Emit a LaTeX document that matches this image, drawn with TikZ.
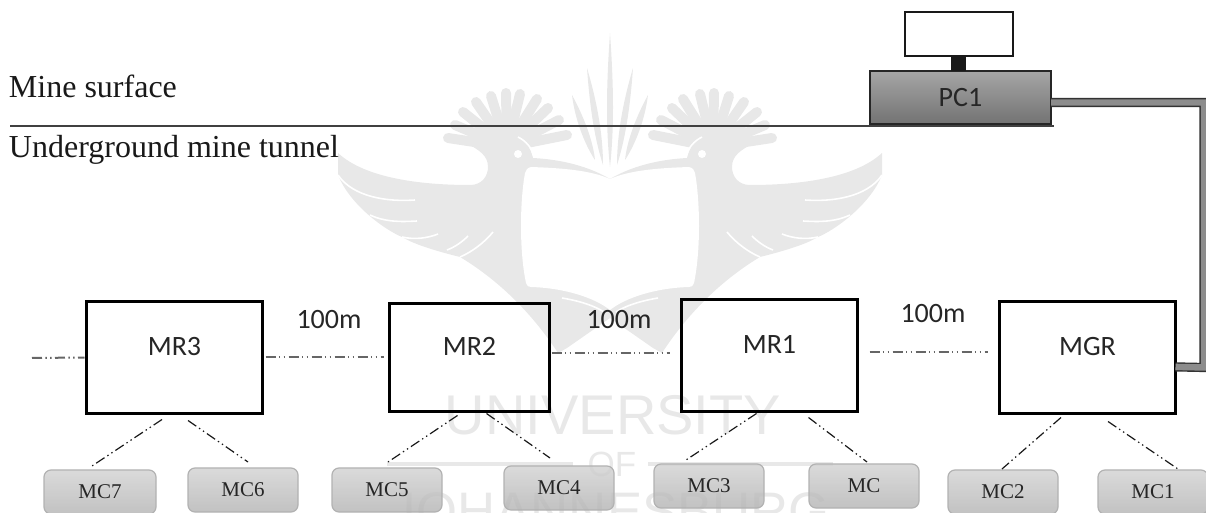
\documentclass[tikz,border=0pt]{standalone}
\usepackage{fontspec}
\setmainfont{Liberation Serif}
\newfontfamily\calfont{Carlito}
\newfontfamily\wmfont{Liberation Sans}
\usepackage{xcolor}
\usetikzlibrary{positioning,calc}

\definecolor{wmgray}{HTML}{E8E8E8}

\begin{document}
\begin{tikzpicture}[
  x=0.5pt, y=-0.5pt,
  every node/.style={inner sep=0pt, outer sep=0pt},
  mrbox/.style={draw=black, line width=1.4pt, font=\fontsize{14}{16}\calfont,
                text depth=11.5pt, text=black!85},
  mcbox/.style={draw=black!30, line width=0.6pt, rounded corners=3.5pt, minimum width=55pt,
                minimum height=22pt, top color=black!18, bottom color=black!30,
                fill opacity=0.8, text opacity=1,
                font=\fontsize{10.5}{12}\selectfont, text=black!85},
  lnk/.style={line width=1pt, black!60,
              dash pattern=on 5pt off 1.7pt on 0.7pt off 1.7pt on 0.7pt off 1.7pt},
  lnkd/.style={lnk, line width=0.6pt, black!90},
  pipe/.style={draw=black!80, line width=0.7pt, double=black!45, double distance=3.2pt},
  tag/.style={font=\fontsize{14}{16}\calfont, text=black!85},
  zone/.style={font=\fontsize{16}{18}\selectfont, text=black!90, anchor=base west},
  wm/.style={font=\wmfont, text=wmgray},
  slit/.style={draw=white, line width=0.8pt},
]
\useasboundingbox (0,0) rectangle (1206,513);

% =============================================================== watermark
\foreach \s in {1,-1} {
\begin{scope}[xshift=305pt, xscale=\s, xshift=-305pt]
  % crest
  \foreach \tx/\ty in {448/138, 455/125, 463/112, 476/102, 491/96, 506/93,
                       520/94, 537/99, 548/108, 559/120, 567/135}
    \draw[wmgray, line width=5pt, line cap=round] (\tx,\ty) -- (507,147);
  % wing, head and tail
  \fill[wmgray] (338,153) .. controls (365,178) and (420,185) .. (470,185)
    .. controls (482,185) and (488,176) .. (488,167)
    .. controls (488,155) and (478,150) .. (470,145) -- (510,133)
    .. controls (525,138) and (531,148) .. (533,158)
    .. controls (570,160) and (595,170) .. (610,179) -- (610,318) -- (567,348) -- (558,353)
    .. controls (530,310) and (495,278) .. (460,257)
    .. controls (440,252) and (415,245) .. (402,237)
    .. controls (385,230) and (350,205) .. (338,175) -- cycle;
  % shield
  \fill[white] (610,179) .. controls (590,170) and (560,168) .. (531,167)
    .. controls (527,168) and (526,170) .. (525,173)
    .. controls (520,200) and (519,250) .. (526,283)
    .. controls (527,286) and (528,287) .. (531,287)
    .. controls (565,288) and (595,298) .. (610,310) -- cycle;
  \fill[white] (518,154) circle (4);
  \draw[slit] (518,137) .. controls (526,141) and (532,148) .. (533,155);
  \draw[slit] (562,298) .. controls (580,301) and (595,306) .. (604,312);
  % wing slits
  \draw[slit] (338,175) .. controls (353,197) and (387,202) .. (415,200);
  \draw[slit] (370,215) .. controls (385,222) and (400,222) .. (417,221);
  \draw[slit] (402,237) .. controls (415,240) and (428,238) .. (438,234);
  \draw[slit] (447,250) .. controls (455,247) and (462,242) .. (468,236);
  \draw[slit] (460,257) .. controls (472,252) and (485,242) .. (493,232);
  % rays
  \fill[wmgray] (587,68) .. controls (590,110) and (595,140) .. (603,165)
    .. controls (603,130) and (595,95) .. (587,68) -- cycle;
  \fill[wmgray] (572,95) .. controls (575,120) and (585,145) .. (595,160)
    .. controls (593,140) and (583,115) .. (572,95) -- cycle;
\end{scope}
}
\fill[wmgray] (610,33) .. controls (606,90) and (606,130) .. (610,167)
  .. controls (614,130) and (614,90) .. (610,33) -- cycle;
\fill[wmgray] (387,462) rectangle (573,466);
\fill[wmgray] (648,462) rectangle (833,466);
\node[wm, font=\fontsize{28}{30}\wmfont, anchor=base] (wmuni) at (613,435) {UNIVERSITY};
\node[wm, font=\fontsize{17.5}{20}\wmfont, anchor=base] (wmof) at (612,477) {OF};
\node[wm, font=\fontsize{26.4}{30}\wmfont, anchor=base] (wmjoh) at (610,530) {JOHANNESBURG};

% =============================================================== surface
\coordinate (surfl) at (10,126);
\coordinate (surfr) at (1054,126);
\draw[line width=0.8pt, black!75] (surfl) -- (surfr);
\node[zone] (surf) at (9,98) {Mine surface};
\node[zone] (tunn) at (9,158) {Underground mine tunnel};

\node[draw=black!85, line width=0.6pt, top color=black!35, bottom color=black!55,
      minimum width=90.5pt, minimum height=26.5pt, tag] (pc1) at (960.5,97.5) {PC1};
\node[fill=black!90, minimum width=7.5pt, minimum height=7.5pt,
      above=0pt of pc1, xshift=-1pt] (stand) {};
\node[draw=black!90, line width=1pt, fill=white, minimum width=54pt, minimum height=22pt,
      above=0pt of stand] (monitor) {};

% =============================================================== routers
\node[mrbox, minimum width=88pt, minimum height=56pt] (mr3) at (174.5,357.5) {MR3};
\node[mrbox, minimum width=80pt, minimum height=54pt, right=63.5pt of mr3] (mr2) {MR2};
\node[mrbox, minimum width=88pt, minimum height=56pt, right=66pt of mr2, yshift=1pt] (mr1) {MR1};
\node[mrbox, minimum width=88pt, minimum height=56pt, right=71pt of mr1, yshift=-1pt] (mgr) {MGR};

\node[tag] (dist3) at (329,320) {100m};
\node[tag] (dist2) at (619,320) {100m};
\node[tag] (dist1) at (933,314) {100m};

% --- the pipe up to the surface ---
\coordinate (pipetop) at (1204,102.5);
\coordinate (pipebot) at (1204,367.5);
\draw[pipe] ([yshift=-2.5pt]pc1.east) -- (pipetop) -- (pipebot) -- ([yshift=-4.7pt]mgr.east);

% =============================================================== clients
\node[mcbox, minimum width=56pt] (mc7) at (100,492) {MC7};
\node[mcbox, right=16pt of mc7, yshift=1pt] (mc6) {MC6};
\node[mcbox, right=17pt of mc6] (mc5) {MC5};
\node[mcbox, right=31pt of mc5, yshift=1pt] (mc4) {MC4};
\node[mcbox, right=20pt of mc4, yshift=1pt] (mc3) {MC3};
\node[mcbox, right=22.5pt of mc3] (mc) {MC};
\node[mcbox, right=14.5pt of mc, yshift=-3pt] (mc2) {MC2};
\node[mcbox, right=20pt of mc2] (mc1) {MC1};

% --- radio links ---
\coordinate (mrleft) at (32,358);
\draw[lnk] (mrleft) -- ($(mr3.west)+(-2,0)$);
\foreach \a/\ax/\ay/\b/\bx/\by in {mr3.east/3/0/mr2.west/-6/0, mr2.east/2/-4/mr1.west/-12/-2,
                                   mr1.east/12/-3/mgr.west/-12/-5}
  \draw[lnk] ($(\a)+(\ax,\ay)$) -- ($(\b)+(\bx,\by)$);

\foreach \a/\ax/\ay/\b/\bx/\by in {mr3/-12.5/6/mc7/-8/-4, mr3/13.5/7/mc6/5/-6,
                                   mr2/-12/4/mc5/1/-6, mr2/17/2/mc4/-9/-8,
                                   mr1/-13/2/mc3/-23/-4, mr1/39/6/mc/3/-2,
                                   mgr/-26.5/4/mc2/-1/-1, mgr/20.5/8/mc1/25/-1}
  \draw[lnkd] ($(\a.south)+(\ax,\ay)$) -- ($(\b.north)+(\bx,\by)$);

\end{tikzpicture}
\end{document}
